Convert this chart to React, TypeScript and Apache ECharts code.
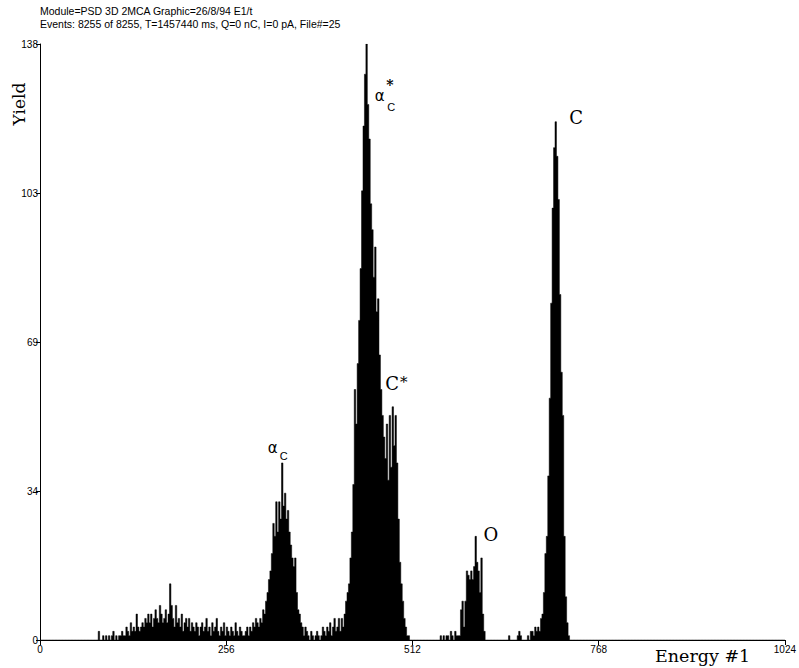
import React, { useEffect, useRef } from "react";
import * as echarts from "echarts";

// Histogram counts, 2-channel bins, each array starts at the given channel
const noiseStart = 80;
const noise = [
  2, 0, 0, 1, 0, 1, 0, 1, 0, 1, 2, 0, 1, 0, 1,
  1, 2, 1, 1, 3, 2, 1, 4, 2, 3,
  2, 6, 3, 2, 3, 4, 3, 5, 4, 6,
  4, 6, 3, 5, 7, 5, 4, 8, 6, 4,
  5, 7, 4, 6, 13, 8, 5, 3, 8, 4,
  5, 3, 6, 2, 4, 5, 3, 5, 2, 4,
  3, 2, 4, 3, 1, 3, 4, 2, 3, 5,
  2, 3, 1, 4, 2, 3, 5, 2, 1, 3,
  2, 4, 1, 3, 2, 1, 3, 2, 1, 4,
  2, 1, 3, 2, 1, 1, 2, 3, 1, 3,
];
const alphaStart = 290;
const alphaPeak = [
  2, 4, 3, 5, 4, 3, 5, 4, 7, 6,
  9, 11, 14, 16, 20, 27, 24, 32, 25, 32,
  28, 41, 31, 34, 28, 30, 25, 22, 19, 17,
  19, 11, 7, 6, 4, 3, 1, 3, 2, 1,
  0, 2, 1, 0, 1, 2, 1, 0, 1, 3,
  2, 1, 3, 2, 4, 1, 3, 5, 2, 3,
  5, 2, 5, 3, 6,
];
const mainStart = 420;
const mainPeak = [
  9, 11, 13, 19, 25, 36, 58, 50, 64, 74,
  86, 104, 119, 131, 138, 124, 116, 101, 95, 84,
  91, 76, 79, 66, 58, 52, 47, 42, 50, 37,
  52, 40, 54, 45, 52, 41, 28, 18, 13, 9,
  5, 3, 1, 1,
];
const oxygenStart = 576;
const oxygenPeak = [1, 7, 9, 3, 9, 16, 15, 14, 16, 14, 17, 24, 18, 16, 11, 19, 6, 2, 0];
const carbonStart = 674;
const carbonPeak = [
  2, 2, 1, 3, 2, 3, 2, 5, 6, 11,
  20, 24, 38, 56, 78, 100, 114, 120, 112, 102,
  80, 62, 52, 24, 10, 4, 1,
];
const strays: [number, number][] = [
  [550, 1], [554, 1], [558, 1], [560, 1], [564, 2], [566, 1], [570, 2],
  [572, 1], [574, 1], [644, 1], [656, 1], [658, 2], [660, 1], [670, 1],
];

const xTicks = [0, 256, 512, 768, 1024];
const yMax = 138;

const headerLines = [
  "Module=PSD 3D 2MCA Graphic=26/8/94 E1/t",
  "Events: 8255 of 8255, T=1457440 ms, Q=0 nC, I=0 pA, File#=25",
];

// annotations: text, channel, count, font size, family
const annotations: { t: string; ch: number; y: number; size: number; font: string; bold?: boolean }[] = [
  { t: "α", ch: 320, y: 44.5, size: 15, font: "DejaVu Sans" },
  { t: "C", ch: 335, y: 42.5, size: 11, font: "Liberation Sans" },
  { t: "α", ch: 467, y: 126, size: 15, font: "DejaVu Sans" },
  { t: "*", ch: 481, y: 128.5, size: 14, font: "DejaVu Serif", bold: true },
  { t: "C", ch: 483, y: 123.5, size: 11, font: "Liberation Sans" },
  { t: "C", ch: 484, y: 59.5, size: 18, font: "DejaVu Serif" },
  { t: "*", ch: 500, y: 59.8, size: 15, font: "DejaVu Serif" },
  { t: "O", ch: 620, y: 24.5, size: 18, font: "DejaVu Serif" },
  { t: "C", ch: 737, y: 121, size: 18, font: "DejaVu Serif" },
];

function buildData(): [number, number][] {
  const m = new Map<number, number>();
  const put = (start: number, arr: number[]) => arr.forEach((v, i) => m.set(start + 2 * i, v));
  put(noiseStart, noise);
  put(alphaStart, alphaPeak);
  put(mainStart, mainPeak);
  put(oxygenStart, oxygenPeak);
  put(carbonStart, carbonPeak);
  strays.forEach(([c, v]) => m.set(c, v));
  const out: [number, number][] = [];
  for (let c = 0; c <= 1024; c += 2) out.push([c, m.get(c) ?? 0]);
  return out;
}

export default function App() {
  const ref = useRef<HTMLDivElement>(null);
  useEffect(() => {
    document.body.style.margin = "0";
    if (!ref.current) return;
    const chart = echarts.init(ref.current, undefined, { renderer: "svg" });
    const axisColor = "#000";
    chart.setOption({
      animation: false,
      backgroundColor: "#fff",
      grid: { left: 40, right: 10, top: 44, bottom: 28 },
      xAxis: {
        type: "value",
        min: xTicks[0],
        max: xTicks[xTicks.length - 1],
        interval: 256,
        axisLine: { lineStyle: { color: axisColor, width: 1 } },
        axisTick: { length: 5, lineStyle: { color: axisColor } },
        axisLabel: {
          fontFamily: "Liberation Sans",
          fontSize: 10,
          color: "#000",
          margin: 4,
          showMaxLabel: true,
          showMinLabel: true,
          formatter: (v: number) => String(v),
        },
        splitLine: { show: false },
      },
      yAxis: {
        type: "value",
        min: 0,
        max: yMax,
        interval: yMax / 4,
        axisLine: { show: true, lineStyle: { color: axisColor, width: 1 } },
        axisTick: { show: true, length: 4, lineStyle: { color: axisColor } },
        axisLabel: {
          fontFamily: "Liberation Sans",
          fontSize: 10,
          color: "#000",
          margin: 2,
          formatter: (v: number) => String(Math.floor(v)),
        },
        splitLine: { show: false },
      },
      series: [
        {
          type: "line",
          step: "end",
          data: buildData(),
          symbol: "none",
          silent: true,
          lineStyle: { width: 0.5, color: "#000" },
          areaStyle: { color: "#000", opacity: 1 },
        },
      ],
    });
    const graphic: any[] = [];
    headerLines.forEach((t, i) => {
      graphic.push({
        type: "text",
        left: 40,
        top: 5 + i * 13,
        style: { text: t, fontFamily: "Liberation Sans", fontSize: 10.5, fill: "#000" },
      });
    });
    graphic.push({
      type: "text",
      x: 19,
      y: 104,
      rotation: Math.PI / 2,
      style: { text: "Yield", fontFamily: "DejaVu Serif", fontSize: 17, fill: "#000", align: "center", verticalAlign: "middle" },
    });
    graphic.push({
      type: "text",
      x: 655,
      y: 656,
      style: { text: "Energy #1", fontFamily: "DejaVu Serif", fontSize: 17.5, fill: "#000", align: "left", verticalAlign: "middle" },
    });
    annotations.forEach((a) => {
      const p = chart.convertToPixel({ gridIndex: 0 }, [a.ch, a.y]) as number[];
      graphic.push({
        type: "text",
        x: p[0],
        y: p[1],
        style: {
          text: a.t,
          fontFamily: a.font,
          fontSize: a.size,
          fontWeight: a.bold ? "bold" : "normal",
          fill: "#000",
          align: "center",
          verticalAlign: "middle",
        },
      });
    });
    chart.setOption({ graphic });
    return () => chart.dispose();
  }, []);
  return <div ref={ref} style={{ width: 799, height: 668 }} />;
}
